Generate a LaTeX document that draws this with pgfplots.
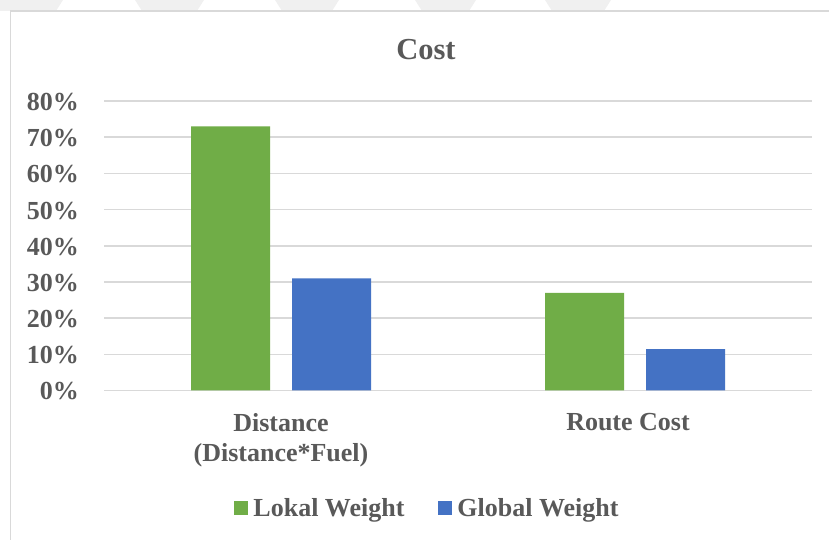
\documentclass[border=0pt]{standalone}
\usepackage{fontspec}
\setmainfont{Liberation Serif}
\usepackage{pgfplots}
\pgfplotsset{compat=1.18}

\definecolor{lokal}{HTML}{70AD47}
\definecolor{global}{HTML}{4472C4}
\definecolor{txt}{HTML}{595959}
\definecolor{gridc}{HTML}{D9D9D9}
\definecolor{framec}{HTML}{D9D9D9}
\definecolor{pagepat}{HTML}{F0F0F0}

\newcommand{\lbl}{\bfseries\fontsize{26}{30}\selectfont\color{txt}}

\begin{document}
\begin{tikzpicture}[x=1pt,y=1pt]
  \useasboundingbox (0,0) rectangle (829,540);
  % faint page pattern above the chart frame
  \foreach \a/\b in {-20/63,135/204,275/339,415/476,545/611}{
    \fill[pagepat] (\a,540) -- (\b,540) -- (\b-7,529) -- (\a+7,529) -- cycle;
  }
  % chart frame
  \fill[white] (10.5,-5) rectangle (840,529);
  \draw[framec, line width=1.2pt] (10.5,-5) -- (10.5,529) -- (840,529);

  \begin{axis}[
    at={(104pt,149.5pt)}, anchor=south west,
    scale only axis,
    width=708pt, height=289.5pt,
    xmin=-0.5, xmax=1.5,
    ymin=0, ymax=80,
    xtick={0,1},
    xticklabels={Distance\\(Distance*Fuel), Route Cost\hspace*{14pt}},
    ytick={0,10,...,80},
    yticklabels={0\%,10\%,20\%,30\%,40\%,50\%,60\%,70\%,80\%},
    ymajorgrids,
    major grid style={draw=gridc, line width=1.6pt},
    axis line style={draw=none},
    major tick length=0pt,
    tick style={draw=none},
    ticklabel style={font=\lbl},
    yticklabel style={anchor=east, inner sep=0pt, xshift=-25pt, yshift=-1pt},
    xticklabel style={anchor=north, inner sep=0pt, align=center, yshift=-23pt},
    ybar, bar width=79pt,
    title={Cost},
    title style={at={(0.4548,1.1451)}, anchor=base, inner sep=0pt, yshift=-7pt,
      font=\bfseries\fontsize{30.5}{34}\selectfont\color{txt}},
    legend columns=2,
    legend style={at={(0.4555,-0.4076)}, anchor=center,
      draw=none, fill=none, inner sep=0pt,
      font=\lbl,
      nodes={inner sep=0pt},
      /tikz/every odd column/.append style={column sep=5pt},
      /tikz/every even column/.append style={column sep=34pt}},
    legend image code/.code={\fill[#1] (0pt,-7pt) rectangle (14pt,7pt);},
  ]
    \addplot[fill=lokal, draw=none, bar shift=-50.5pt]
      coordinates {(0,73) (1,27)};
    \addplot[fill=global, draw=none, bar shift=50.5pt]
      coordinates {(0,31) (1,11.4)};
    \legend{Lokal Weight, Global Weight}
  \end{axis}
\end{tikzpicture}
\end{document}
